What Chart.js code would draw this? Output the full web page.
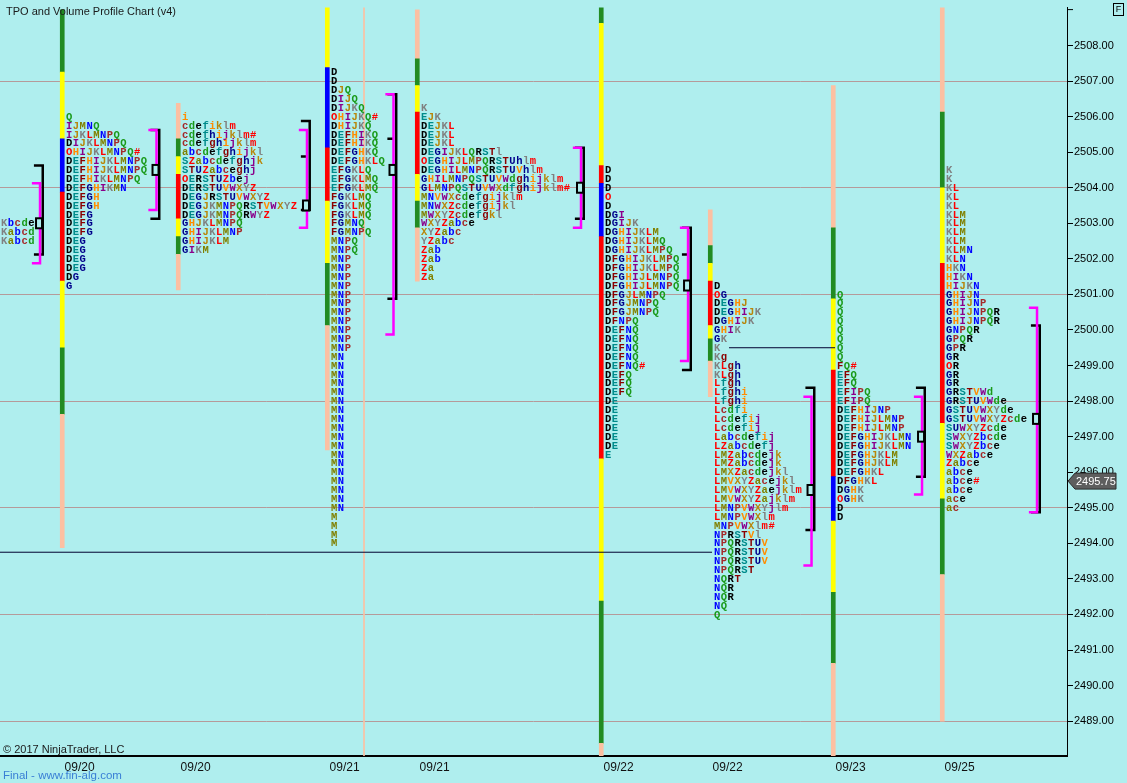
<!DOCTYPE html>
<html>
<head>
<meta charset="utf-8">
<title>TPO and Volume Profile Chart (v4)</title>
<script src="https://cdn.jsdelivr.net/npm/chart.js@4.4.0/dist/chart.umd.min.js"></script>
<style>
  html, body { margin: 0; padding: 0; background: #afeeee; }
  #wrap { width: 1127px; height: 783px; position: relative; }
</style>
</head>
<body>
<div id="wrap"><canvas id="tpoChart"></canvas></div>
<script>
// ---- axis values ----
const yTicks = [2489, 2490, 2491, 2492, 2493, 2494, 2495, 2496, 2497, 2498, 2499, 2500, 2501, 2502, 2503, 2504, 2505, 2506, 2507, 2508];
const gridPrices = [2489, 2492, 2495, 2498, 2501, 2504, 2507];
const dateLabels = ['09/20', '09/20', '09/21', '09/21', '09/22', '09/22', '09/23', '09/25'];
const lastPrice = 2495.75;

// ---- sessions (index 0 is the profile cut off at the left edge) ----
// x is in TPO columns (one letter per column)
const letterStart = [0.15, 9.71, 26.78, 48.71, 61.95, 89.02, 105.06, 123.16, 139.2];
const topRow = [2503.0, 2506.0, 2506.0, 2507.25, 2506.25, 2504.5, 2501.25, 2501.0, 2504.5];

const tpo0 = ['Kbcde', 'Kabcd', 'Kabcd'];
const tpo1 = ['Q', 'IJMNQ', 'IJKLMNPQ', 'DIJKLMNPQ', 'OHIJKLMNPQ#', 'DEFHIJKLMNPQ', 'DEFHIJKLMNPQ', 'DEFHIKLMNPQ',
  'DEFGHIKMN', 'DEFGH', 'DEFGH', 'DEFG', 'DEFG', 'DEFG', 'DEG', 'DEG', 'DEG', 'DEG', 'DG', 'G'];
const tpo2 = ['i', 'cdefiklm', 'cdefhijklm#', 'cdefghijklm', 'abcdefghijkl', 'SZabcdefghjk', 'STUZabceghj', 'OERSTUZbej',
  'DERSTUVWXYZ', 'DEGJRSTUVWXYZ', 'DEGJKMNPQRSTVWXYZ', 'DEGJKMNPQRWYZ', 'GHJKLMNPQ', 'GHIJKLMNP', 'GHIJKLM', 'GIKM'];
const tpo3 = ['D', 'D', 'DJQ', 'DIJQ', 'DIJKQ', 'OHIJKQ#', 'DHIJKQ', 'DEFHIKQ', 'DEFHIKQ', 'DEFGHKQ', 'DEFGHKLQ',
  'EFGKLQ', 'EFGKLMQ', 'EFGKLMQ', 'FGKLMQ', 'FGKLMQ', 'FGKLMQ', 'FGMNQ', 'FGMNPQ', 'MNPQ', 'MNPQ',
  'MNP', 'MNP', 'MNP', 'MNP', 'MNP', 'MNP', 'MNP', 'MNP', 'MNP', 'MNP', 'MNP',
  'MN', 'MN', 'MN', 'MN', 'MN', 'MN', 'MN', 'MN', 'MN', 'MN', 'MN', 'MN', 'MN', 'MN', 'MN', 'MN', 'MN', 'MN',
  'M', 'M', 'M', 'M'];
const tpo4 = ['K', 'EJK', 'DEJKL', 'DEJKL', 'DEJKL', 'DEGIJKLQRSTl', 'OEGHIJLMPQRSTUhlm', 'DEGHILMNPQRSTUVhlm',
  'GHILMNPQSTUVWdghijklm', 'GLMNPQSTUVWXdfghijklm#', 'MNVWXcdefgijklm', 'MNWXZcdefgijkl', 'MWXYZcdefgkl',
  'WXYZabce', 'XYZabc', 'YZabc', 'Zab', 'Zab', 'Za', 'Za'];
const tpo5 = ['D', 'D', 'D', 'O', 'D', 'DGI', 'DGIJK', 'DGHIJKLM', 'DGHIJKLMQ', 'DGHIJKLMPQ', 'DFGHIJKLMPQ', 'DFGHIJKLMPQ',
  'DFGHIJLMNPQ', 'DFGHIJLMNPQ', 'DFGJLMNPQ', 'DFGJMNPQ', 'DFGJMNPQ', 'DFNPQ', 'DEFNQ', 'DEFNQ', 'DEFNQ', 'DEFNQ',
  'DEFNQ#', 'DEFQ', 'DEFQ', 'DEFQ', 'DE', 'DE', 'DE', 'DE', 'DE', 'DE', 'E'];
const tpo6 = ['D', 'OG', 'DEGHJ', 'DEGHIJK', 'DGHIJK', 'GHIK', 'GK', 'K', 'Kg', 'KLgh', 'KLgh', 'Lfgh', 'Lfghi', 'Lfghi',
  'Lcdfi', 'Lcdefij', 'Lcdefij', 'Labcdefij', 'LZabcdefj', 'LMZabcdejk', 'LMZabcdejk', 'LMXZacdejkl', 'LMVXYZacejkl',
  'LMVWXYZaejklm', 'LMVWXYZajklm', 'LMNPVWXYjlm', 'LMNPVWXlm', 'MNPVWXlm#', 'NPRSTVl', 'NPQRSTUV', 'NPQRSTUV',
  'NPQRSTUV', 'NPQRST', 'NQRT', 'NQR', 'NQR', 'NQ', 'Q'];
const tpo7 = ['Q', 'Q', 'Q', 'Q', 'Q', 'Q', 'Q', 'Q', 'FQ#', 'EFQ', 'EFQ', 'EFIPQ', 'EFIPQ', 'DEFHIJNP', 'DEFHIJLMNP',
  'DEFHIJLMNP', 'DEFGHIJKLMN', 'DEFGHIJKLMN', 'DEFGHJKLM', 'DEFGHJKLM', 'DEFGHKL', 'DFGHKL', 'DGHK', 'OGHK', 'D', 'D'];
const tpo8 = ['K', 'K', 'KL', 'KL', 'KL', 'KLM', 'KLM', 'KLM', 'KLM', 'KLMN', 'KLN', 'HKN', 'HIKN', 'HIJKN', 'GHIJN',
  'GHIJNP', 'GHIJNPQR', 'GHIJNPQR', 'GNPQR', 'GPQR', 'GPR', 'GR', 'OR', 'GR', 'GR', 'GRSTVWd', 'GRSTUVWde',
  'GSTUVWXYde', 'GSTUVWXYZcde', 'SUWXYZcde', 'SWXYZbcde', 'SWXYZbce', 'WXZabce', 'Zabce', 'abce', 'abce#', 'abce',
  'ace', 'ac'];
const tpoRows = [tpo0, tpo1, tpo2, tpo3, tpo4, tpo5, tpo6, tpo7, tpo8];

// profile bars: price edges top to bottom, and the kind of each segment
const barEdges = [
  [],
  [2509.0, 2507.25, 2505.375, 2503.875, 2501.375, 2499.5, 2497.625, 2493.875],
  [2506.375, 2505.375, 2504.875, 2504.375, 2503.125, 2502.625, 2502.125, 2501.125],
  [2509.125, 2507.375, 2505.125, 2503.625, 2501.875, 2500.125, 2496.625],
  [2509.0, 2507.625, 2506.875, 2506.125, 2504.375, 2503.625, 2502.875, 2501.375],
  [2509.125, 2508.625, 2504.625, 2504.125, 2502.625, 2496.375, 2492.375, 2488.375, 2487.9],
  [2503.375, 2502.375, 2501.875, 2501.375, 2500.125, 2499.75, 2499.125, 2498.125],
  [2506.875, 2502.875, 2500.875, 2498.875, 2495.875, 2494.625, 2492.625, 2490.625, 2487.9],
  [2509.125, 2506.125, 2504.0, 2501.875, 2497.375, 2495.25, 2493.125, 2489.0]
];
const barKinds = [
  [],
  ['G', 'Y', 'B', 'R', 'Y', 'G', 'S'],
  ['S', 'G', 'Y', 'R', 'Y', 'G', 'S'],
  ['Y', 'B', 'R', 'Y', 'G', 'S'],
  ['S', 'G', 'Y', 'R', 'Y', 'G', 'S'],
  ['G', 'Y', 'R', 'B', 'R', 'Y', 'G', 'S'],
  ['S', 'G', 'Y', 'R', 'Y', 'G', 'S'],
  ['S', 'G', 'Y', 'R', 'B', 'Y', 'G', 'S'],
  ['S', 'G', 'Y', 'R', 'Y', 'G', 'S']
];
const splitX = [53.56];
const splitRange = [2487.9, 2509.2];

// value areas: TPO (magenta), volume (black), POC
const vaX = [5.89, 23.03, 45.17, 57.9, 85.49, 101.24, 119.41, 135.67, 152.59];
const vaHigh = [2504.0, 2505.5, 2505.5, 2506.5, 2505.0, 2502.75, 2498.0, 2498.0, 2500.5];
const vaLow = [2502.0, 2503.5, 2503.0, 2500.0, 2503.0, 2499.25, 2493.5, 2495.5, 2495.0];
const volHigh = [2504.5, 2505.5, 2505.75, 2506.5, 2505.0, 2502.75, 2498.25, 2498.25, 2500.0];
const volLow = [2502.25, 2503.25, 2503.5, 2501.0, 2503.25, 2499.0, 2494.5, 2496.0, 2495.0];
const volMark = [null, null, 2504.75, 2505.25, null, 2502.0, null, null, null];
const pocPrice = [2503.0, 2504.5, 2503.5, 2504.5, 2504.0, 2501.25, 2495.5, 2497.0, 2497.5];

// naked POC lines
const nakedPrice = [2493.75, 2499.5];
const nakedFrom = [0, 107.27];
const nakedTo = [104.77, 122.87];

// ---- styles ----
const BG = '#afeeee';
const kindColor = { G: '#228b22', Y: '#ffff00', B: '#0000ff', R: '#ff0000', S: '#fcc0a2' };
const letterOrder = 'DEFGHIJKLMNPQRSTUVWXYZabcdefghijklm';
const letterPalette = ['#000000', '#008b8b', '#8b0000', '#00008b', '#ff8c00', '#8b008b', '#b8860b',
  '#808080', '#ff0000', '#808000', '#0000ff', '#a52a2a', '#1a9a1a'];

function letterColor(ch) {
  if (ch === 'O' || ch === '#') return '#ff0000';
  const i = letterOrder.indexOf(ch);
  return i < 0 ? '#808080' : letterPalette[i % letterPalette.length];
}

// ---- datasets ----
const half = 0.125;
const datasets = [];

barEdges.forEach((edges, i) => {
  if (!edges.length) return;
  datasets.push({
    type: 'bar',
    data: barKinds[i].map((k, j) => ({ x: letterStart[i] - 0.55, y: [edges[j + 1], edges[j]] })),
    backgroundColor: barKinds[i].map(k => kindColor[k]),
    barThickness: 4,
    borderWidth: 0,
    grouped: false,
    order: 10
  });
});

datasets.push({
  type: 'bar',
  data: splitX.map(x => ({ x: x, y: splitRange })),
  backgroundColor: kindColor.S,
  barThickness: 1,
  borderWidth: 0,
  grouped: false,
  order: 10
});

nakedPrice.forEach((p, i) => {
  datasets.push({
    type: 'line',
    data: [{ x: nakedFrom[i], y: p }, { x: nakedTo[i], y: p }],
    borderColor: '#000030',
    borderWidth: 1,
    pointRadius: 0,
    fill: false,
    order: 9
  });
});

vaX.forEach((mx, i) => {
  const bx = mx + 0.4;
  datasets.push({
    type: 'line',
    data: [
      { x: bx - 1.3, y: volHigh[i] + half }, { x: bx, y: volHigh[i] + half },
      { x: bx, y: volLow[i] - half }, { x: bx - 1.3, y: volLow[i] - half }
    ],
    borderColor: '#000000',
    borderWidth: 2.5,
    pointRadius: 0,
    fill: false,
    order: 6
  });
  if (volMark[i] !== null) {
    datasets.push({
      type: 'line',
      data: [{ x: bx - 1.3, y: volMark[i] + half }, { x: mx, y: volMark[i] + half }],
      borderColor: '#000000',
      borderWidth: 2.5,
      pointRadius: 0,
      fill: false,
      order: 6
    });
  }
  datasets.push({
    type: 'line',
    data: [
      { x: mx - 1.2, y: vaHigh[i] + half }, { x: mx, y: vaHigh[i] + half },
      { x: mx, y: vaLow[i] - half }, { x: mx - 1.2, y: vaLow[i] - half }
    ],
    borderColor: '#ff00ff',
    borderWidth: 2.5,
    pointRadius: 0,
    fill: false,
    order: 5
  });
});

// ---- drawing of letters, POC boxes and texts ----
const tpoPlugin = {
  id: 'tpoPlugin',
  beforeDraw(chart) {
    const ctx = chart.ctx;
    ctx.save();
    ctx.fillStyle = BG;
    ctx.fillRect(0, 0, chart.width, chart.height);
    ctx.restore();
  },
  afterDatasetsDraw(chart) {
    const ctx = chart.ctx;
    const xs = chart.scales.x;
    const ys = chart.scales.y;
    const area = chart.chartArea;

    ctx.save();
    ctx.beginPath();
    ctx.rect(area.left, area.top, area.right - area.left, area.bottom - area.top);
    ctx.clip();

    // TPO letters
    ctx.font = 'bold 10.5px "Liberation Mono", "DejaVu Sans Mono", monospace';
    ctx.textAlign = 'left';
    ctx.textBaseline = 'middle';
    tpoRows.forEach((rows, i) => {
      rows.forEach((row, r) => {
        const y = ys.getPixelForValue(topRow[i] - r * 0.25) + 0.5;
        for (let k = 0; k < row.length; k++) {
          ctx.fillStyle = letterColor(row[k]);
          ctx.fillText(row[k], xs.getPixelForValue(letterStart[i] + k), y);
        }
      });
    });

    // POC boxes
    pocPrice.forEach((p, i) => {
      const x = xs.getPixelForValue(vaX[i]) - 1;
      const y = ys.getPixelForValue(p);
      ctx.fillStyle = BG;
      ctx.strokeStyle = '#000';
      ctx.lineWidth = 2;
      ctx.fillRect(x - 3, y - 5, 6, 10);
      ctx.strokeRect(x - 3, y - 5, 6, 10);
    });
    ctx.restore();

    // title and footers
    ctx.save();
    ctx.fillStyle = '#1a1a1a';
    ctx.textBaseline = 'middle';
    ctx.textAlign = 'left';
    ctx.font = '11px "Liberation Sans", Arial, sans-serif';
    ctx.fillText('TPO and Volume Profile Chart (v4)', 6, 12);
    ctx.fillText('\u00A9 2017 NinjaTrader, LLC', 3, 750);
    ctx.fillStyle = '#3a7fd5';
    ctx.font = '11.5px "Liberation Sans", Arial, sans-serif';
    ctx.fillText('Final - www.fin-alg.com', 3, 776);

    // last price marker
    const py = ys.getPixelForValue(lastPrice);
    const x0 = area.right + 1;
    ctx.beginPath();
    ctx.moveTo(x0, py);
    ctx.lineTo(x0 + 7, py - 8);
    ctx.lineTo(x0 + 48, py - 8);
    ctx.lineTo(x0 + 48, py + 8);
    ctx.lineTo(x0 + 7, py + 8);
    ctx.closePath();
    ctx.fillStyle = '#5e5e5e';
    ctx.fill();
    ctx.strokeStyle = '#2a2a2a';
    ctx.lineWidth = 1;
    ctx.stroke();
    ctx.fillStyle = '#ffffff';
    ctx.font = '11px "Liberation Sans", Arial, sans-serif';
    ctx.fillText(lastPrice.toFixed(2), x0 + 8, py + 1);

    // "F" box
    ctx.strokeStyle = '#000';
    ctx.strokeRect(1113.5, 3.5, 10, 12);
    ctx.fillStyle = '#000';
    ctx.font = '9px "Liberation Sans", Arial, sans-serif';
    ctx.textAlign = 'center';
    ctx.fillText('F', 1118.5, 10);

    // axis end ticks
    ctx.beginPath();
    ctx.moveTo(area.right, area.top + 2);
    ctx.lineTo(area.right + 6, area.top + 2);
    ctx.moveTo(area.right, area.bottom);
    ctx.lineTo(area.right - 6, area.bottom);
    ctx.stroke();
    ctx.restore();
  }
};

const chart = new Chart(document.getElementById('tpoChart').getContext('2d'), {
  type: 'bar',
  data: { datasets: datasets },
  options: {
    responsive: true,
    maintainAspectRatio: false,
    animation: false,
    layout: { padding: { top: 5, left: 0, right: 0, bottom: 0 } },
    plugins: {
      legend: { display: false },
      tooltip: { enabled: false }
    },
    scales: {
      x: {
        type: 'linear',
        min: 0,
        max: 157,
        offset: false,
        grid: { display: false, drawTicks: false, tickLength: 0 },
        border: { display: true, color: '#000', width: 2 },
        afterBuildTicks: (s) => { s.ticks = letterStart.slice(1).map(v => ({ value: v + 2 })); },
        afterFit: (s) => { s.height = 27; },
        ticks: {
          autoSkip: false,
          maxRotation: 0,
          padding: 4,
          color: '#111',
          font: { family: '"Liberation Sans Narrow", "Liberation Sans", Arial, sans-serif', size: 12 },
          callback: (v, i) => dateLabels[i]
        }
      },
      y: {
        type: 'linear',
        position: 'right',
        min: 2488.02,
        max: 2509.065,
        afterBuildTicks: (s) => { s.ticks = yTicks.map(v => ({ value: v })); },
        afterFit: (s) => { s.width = 60; },
        grid: {
          color: (c) => (c.tick && gridPrices.includes(c.tick.value)) ? '#b59a9a' : 'rgba(0,0,0,0)',
          tickColor: '#000',
          tickLength: 6,
          lineWidth: 1
        },
        border: { display: true, color: '#000', width: 1 },
        ticks: {
          padding: 1,
          color: '#000',
          font: { family: '"Liberation Sans", Arial, sans-serif', size: 11 },
          callback: (v) => Number(v).toFixed(2)
        }
      }
    }
  },
  plugins: [tpoPlugin]
});
</script>
</body>
</html>
